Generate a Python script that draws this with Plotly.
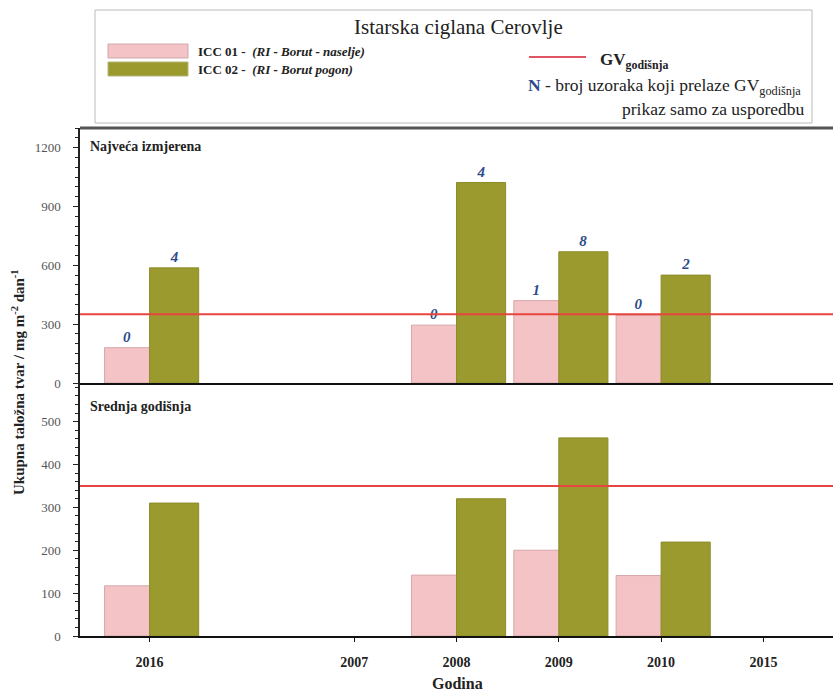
import plotly.graph_objects as go
from plotly.subplots import make_subplots

# ---------------- data ----------------
axis_categories = ["2016", "\u200b", "2007", "2008", "2009", "2010", "2015"]
tick_years = ["2016", "2007", "2008", "2009", "2010", "2015"]
data_years = ["2016", "2008", "2009", "2010"]

max_icc01 = [180, 295, 420, 345]
max_icc02 = [587, 1022, 669, 550]
mean_icc01 = [117, 142, 200, 141]
mean_icc02 = [310, 320, 462, 219]
n_icc01 = [0, 0, 1, 0]
n_icc02 = [4, 4, 8, 2]
gv_annual = 350

series_names = ["ICC 01 - (RI - Borut - naselje)", "ICC 02 - (RI - Borut pogon)"]

# ---------------- style ----------------
W, H = 833, 695
L, R, T, B = 80, 0, 128, 59
PINK = "#f4c3c5"
PINK_EDGE = "#d6a7aa"
OLIVE = "#9a9a2f"
OLIVE_EDGE = "#8c8c28"
RED = "#e6463f"
NBLUE = "#2d4b8c"
SERIF = "Liberation Serif, Times New Roman, DejaVu Serif, serif"


def px(x):
    return (x - L) / (W - L - R)


def py(y):
    return (H - B - y) / (H - T - B)


fig = make_subplots(rows=2, cols=1, shared_xaxes=True, vertical_spacing=0)

panels = [
    (1, max_icc01, max_icc02, True),
    (2, mean_icc01, mean_icc02, False),
]
for row, v1, v2, show_n in panels:
    bar1 = dict(
        x=data_years, y=v1, name=series_names[0],
        marker=dict(color=PINK, line=dict(color=PINK_EDGE, width=1)),
        offset=-0.44, width=0.44, showlegend=False, cliponaxis=False,
    )
    bar2 = dict(
        x=data_years, y=v2, name=series_names[1],
        marker=dict(color=OLIVE, line=dict(color=OLIVE_EDGE, width=1)),
        offset=0.0, width=0.48, showlegend=False, cliponaxis=False,
    )
    if show_n:
        tf = dict(family=SERIF, size=15, color=NBLUE)
        bar1.update(text=[f"<i><b>{n}</b></i>" for n in n_icc01],
                    textposition="outside", textfont=tf)
        bar2.update(text=[f"<i><b>{n}</b></i>" for n in n_icc02],
                    textposition="outside", textfont=tf)
    fig.add_trace(go.Bar(**bar1), row=row, col=1)
    fig.add_trace(go.Bar(**bar2), row=row, col=1)

# GV lines
for yref, xr in [("y", "x domain"), ("y2", "x2 domain")]:
    fig.add_shape(type="line", xref=xr, yref=yref, x0=0, x1=1,
                  y0=gv_annual, y1=gv_annual,
                  line=dict(color=RED, width=2))

split = (636 - 383) / (636 - 128)

fig.update_layout(
    width=W, height=H,
    margin=dict(l=L, r=R, t=T, b=B),
    paper_bgcolor="white", plot_bgcolor="white",
    barmode="overlay",
    font=dict(family=SERIF, color="#333"),
    showlegend=False,
)

common_x = dict(
    type="category", categoryorder="array", categoryarray=axis_categories,
    tickvals=tick_years, range=[-0.68, 6.68],
    showgrid=False, zeroline=False,
)
fig.update_xaxes(**common_x)
fig.update_xaxes(row=1, col=1, showline=True, linecolor="#111", linewidth=2,
                 ticks="", showticklabels=False)
fig.update_xaxes(row=2, col=1, showline=True, linecolor="#111", linewidth=2,
                 ticks="outside", ticklen=4, tickcolor="#111",
                 showticklabels=True, ticklabelstandoff=8,
                 tickfont=dict(family=SERIF, size=14, color="#222",
                               weight="bold"))

ytick_font = dict(family=SERIF, size=13, color="#555")
fig.update_yaxes(row=1, col=1, domain=[split, 1], range=[0, 1300],
                 tickvals=[0, 300, 600, 900, 1200],
                 showline=True, linecolor="#222", linewidth=1.5,
                 ticks="outside", ticklen=5, tickcolor="#222",
                 ticklabelstandoff=10,
                 minor=dict(dtick=50, ticks="outside", ticklen=3,
                            tickcolor="#222"),
                 showgrid=False, zeroline=False, tickfont=ytick_font)
fig.update_yaxes(row=2, col=1, domain=[0, split], range=[0, 590],
                 tickvals=[0, 100, 200, 300, 400, 500],
                 showline=True, linecolor="#222", linewidth=1.5,
                 ticks="outside", ticklen=5, tickcolor="#222",
                 ticklabelstandoff=10,
                 minor=dict(dtick=20, ticks="outside", ticklen=3,
                            tickcolor="#222"),
                 showgrid=False, zeroline=False, tickfont=ytick_font)

# top frame line of upper panel
fig.add_shape(type="line", xref="paper", yref="paper", x0=0, x1=1,
              y0=1, y1=1, line=dict(color="#555", width=3))

# ---------------- legend box (decorations) ----------------
fig.add_shape(type="rect", xref="paper", yref="paper",
              x0=px(95), x1=px(812), y0=py(10), y1=py(123),
              line=dict(color="#bbbbbb", width=1), fillcolor="white")
fig.add_shape(type="rect", xref="paper", yref="paper",
              x0=px(108), x1=px(188), y0=py(44), y1=py(58),
              line=dict(color="#cfa9ab", width=1), fillcolor=PINK)
fig.add_shape(type="rect", xref="paper", yref="paper",
              x0=px(108), x1=px(188), y0=py(62), y1=py(76),
              line=dict(color="#b5b57a", width=1), fillcolor=OLIVE)
fig.add_shape(type="line", xref="paper", yref="paper",
              x0=px(529), x1=px(586), y0=py(57), y1=py(57),
              line=dict(color="#e05565", width=2))


def ann(text, x, y, size, xanchor="left", yanchor="middle", color="#222",
        angle=0):
    fig.add_annotation(text=text, xref="paper", yref="paper",
                       x=px(x), y=py(y), xanchor=xanchor, yanchor=yanchor,
                       showarrow=False, textangle=angle,
                       font=dict(family=SERIF, size=size, color=color))


ann("Istarska ciglana Cerovlje", 458, 27, 21, xanchor="center")
ann("<b>ICC 01 - </b> <b><i>(RI - Borut - naselje)</i></b>", 196, 51, 13)
ann("<b>ICC 02 - </b> <b><i>(RI - Borut pogon)</i></b>", 196, 69, 13)
ann("<b>GV<sub>godišnja</sub></b>", 598, 61, 17)
ann("<b><span style='color:%s'>N</span></b> - broj uzoraka koji prelaze GV<sub>godišnja</sub>" % NBLUE,
    526, 87, 17.5)
ann("prikaz samo za usporedbu", 806, 109, 17.5, xanchor="right")

ann("<b>Najveća izmjerena</b>", 88, 146, 14)
ann("<b>Srednja godišnja</b>", 88, 406, 14)
ann("<b>Ukupna taložna tvar / mg m<sup>-2</sup> dan<sup>-1</sup></b>",
    18, 382, 15, xanchor="center", angle=-90)
ann("<b>Godina</b>", 457, 683, 16, xanchor="center")

fig.write_html("out.html")
